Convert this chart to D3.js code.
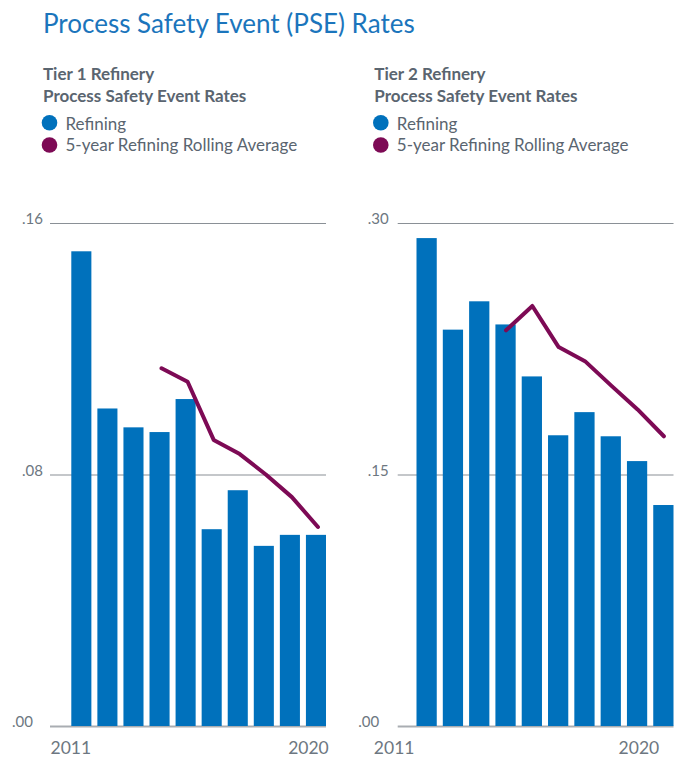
<!DOCTYPE html>
<html>
<head>
<meta charset="utf-8">
<script src="https://cdn.jsdelivr.net/npm/d3@7"></script>
<style>
  html, body { margin: 0; padding: 0; background: #ffffff; }
  svg { display: block; font-family: Lato, "Open Sans", sans-serif; }
</style>
</head>
<body>
<svg id="chart" width="689" height="767"></svg>
<script>
// ---- data ----
const years = [2011, 2012, 2013, 2014, 2015, 2016, 2017, 2018, 2019, 2020];
const tier1Refining = [0.151, 0.101, 0.095, 0.0935, 0.104, 0.0626, 0.075, 0.0573, 0.0608, 0.0608];
const tier1Rolling  = [null, null, null, 0.1138, 0.1095, 0.091, 0.0865, 0.080, 0.0728, 0.0633];
const tier2Refining = [0.291, 0.2364, 0.2533, 0.2395, 0.2085, 0.1734, 0.1872, 0.1728, 0.158, 0.1318];
const tier2Rolling  = [null, null, null, 0.236, 0.2505, 0.226, 0.2176, 0.203, 0.1888, 0.1728];
const tier1Ticks = [0, 0.08, 0.16];
const tier2Ticks = [0, 0.15, 0.30];
const yearTicks = [2011, 2020];
const legendLabels = ["Refining", "5-year Refining Rolling Average"];
const titleText = "Process Safety Event (PSE) Rates";
const tier1Heading = ["Tier 1 Refinery", "Process Safety Event Rates"];
const tier2Heading = ["Tier 2 Refinery", "Process Safety Event Rates"];

// ---- style ----
const BLUE = "#0071BC";
const PURPLE = "#7D0A55";
const TEXT = "#5a6570";
const TICK = "#6d7781";

const svg = d3.select("#chart");

svg.append("text")
  .attr("x", 43).attr("y", 33)
  .attr("font-size", 26).attr("font-weight", 400)
  .attr("fill", "#1B75BC")
  .text(titleText);

function panel(cfg) {
  const g = svg.append("g");

  // heading
  cfg.heading.forEach((t, i) => {
    g.append("text")
      .attr("x", cfg.headX).attr("y", 80 + i * 21.7)
      .attr("font-size", 17).attr("font-weight", 700)
      .attr("fill", TEXT)
      .text(t);
  });
  // legend
  [BLUE, PURPLE].forEach((c, i) => {
    g.append("circle")
      .attr("cx", cfg.headX + 6.5).attr("cy", 122.7 + i * 22.3)
      .attr("r", 7.8).attr("fill", c);
    g.append("text")
      .attr("x", cfg.headX + 22.5).attr("y", 130 + i * 21.3)
      .attr("font-size", 17).attr("font-weight", 400)
      .attr("fill", TEXT)
      .text(legendLabels[i]);
  });

  const x = d3.scaleBand().domain(years).range(cfg.barRange).paddingInner(0.23).paddingOuter(0);
  const y = d3.scaleLinear().domain([0, cfg.yMax]).range([726, 223]);

  // y axis with gridlines
  const yAxis = d3.axisLeft(y)
    .tickValues(cfg.ticks)
    .tickSize(-(cfg.grid[1] - cfg.grid[0]))
    .tickPadding(0)
    .tickFormat(d => d3.format(".2f")(d).replace(/^0/, ""));
  const ya = g.append("g").attr("transform", `translate(${cfg.grid[0]},0)`).call(yAxis);
  ya.select(".domain").remove();
  ya.selectAll(".tick line")
    .attr("stroke", d => d === 0 ? "#a9adb2" : "#8a9096")
    .attr("stroke-width", d => d === 0 ? 2 : 1.2);
  ya.selectAll(".tick text")
    .attr("x", d => d === 0 ? -cfg.zeroGap : -cfg.tickGap)
    .attr("dy", "0.05em")
    .attr("font-family", "Lato, sans-serif")
    .attr("font-size", 15).attr("font-weight", 400)
    .attr("fill", TICK);

  // bars
  g.append("g").selectAll("rect")
    .data(years.map((yr, i) => ({ yr, v: cfg.bars[i] })))
    .join("rect")
    .attr("x", d => x(d.yr))
    .attr("width", x.bandwidth())
    .attr("y", d => y(d.v))
    .attr("height", d => y(0) - y(d.v))
    .attr("fill", BLUE);

  // rolling average line
  const line = d3.line()
    .defined(d => d.v != null)
    .x(d => x(d.yr) + x.bandwidth() / 2 + cfg.lineDx)
    .y(d => y(d.v));
  g.append("path")
    .datum(years.map((yr, i) => ({ yr, v: cfg.line[i] })))
    .attr("d", line)
    .attr("fill", "none")
    .attr("stroke", PURPLE)
    .attr("stroke-width", 4)
    .attr("stroke-linejoin", "round")
    .attr("stroke-linecap", "round");

  // x axis labels
  const xAxis = d3.axisBottom(x).tickValues(yearTicks).tickSize(0).tickPadding(0);
  const xa = g.append("g").attr("transform", "translate(0,726)").call(xAxis);
  xa.select(".domain").remove();
  xa.selectAll(".tick text")
    .attr("x", (d, i) => cfg.yearDx[i])
    .attr("y", 28.3).attr("dy", 0)
    .attr("font-family", "Lato, sans-serif")
    .attr("font-size", 17.5).attr("font-weight", 400)
    .attr("fill", TICK);
}

panel({
  heading: tier1Heading, headX: 43,
  barRange: [71.3, 326], grid: [50, 326], yMax: 0.16, ticks: tier1Ticks,
  tickGap: 7, zeroGap: 17, bars: tier1Refining, line: tier1Rolling, lineDx: 2,
  yearDx: [-10.5, -7.5]
});
panel({
  heading: tier2Heading, headX: 374.3,
  barRange: [416.5, 673.5], grid: [397.7, 673.5], yMax: 0.30, ticks: tier2Ticks,
  tickGap: 9, zeroGap: 18.5, bars: tier2Refining, line: tier2Rolling, lineDx: 0.5,
  yearDx: [-32.5, -24.5]
});
</script>
</body>
</html>
